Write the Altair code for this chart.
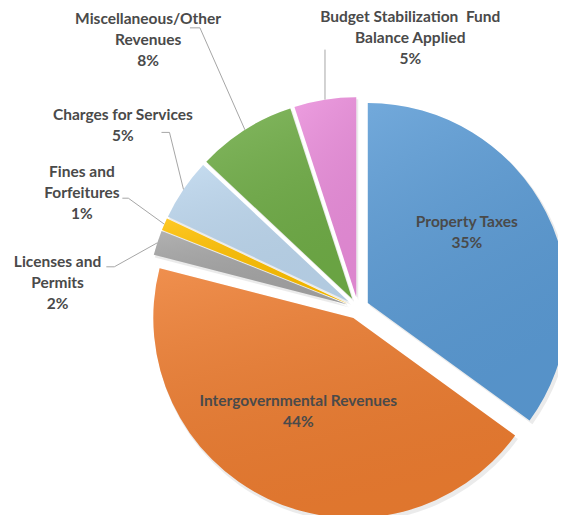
import altair as alt
import pandas as pd

# ---- data ----
categories = [
    "Property Taxes",
    "Intergovernmental Revenues",
    "Licenses and Permits",
    "Fines and Forfeitures",
    "Charges for Services",
    "Miscellaneous/Other Revenues",
    "Budget Stabilization Fund Balance Applied",
]
values = [35, 44, 2, 1, 5, 8, 5]
label_names = [
    "Property Taxes",
    "Intergovernmental Revenues",
    "Licenses and\nPermits",
    "Fines and\nForfeitures",
    "Charges for Services",
    "Miscellaneous/Other\nRevenues",
    "Budget Stabilization\u00a0 Fund\nBalance Applied",
]

# ---- style / layout ----
colors = ["#5B9BD5", "#ED7D31", "#A5A5A5", "#FFC000", "#BDD7EE", "#70AD47", "#EA8EDB"]
PAD_TOP = 6
CX, CY, R, EXPLODE = 350, 300 - PAD_TOP, 200, 11
label_dx = [99, -55, -290, -266, -226, -204, 54]
label_dy = [-81, 83, -43, -132, -187, -280, -280]
elbow_dx = [0, 0, -43, -36, -14, -45, 0]
elbow_dy = [0, 0, 24, -26, -57, -102, -50]
tick_dx = [0, 0, -8, -6, -8, -10, 0]
has_leader = [False, False, True, True, True, True, True]

df = pd.DataFrame({
    "category": categories,
    "value": values,
    "order": list(range(len(categories))),
    "label": [f"{n}\n{v}%" for n, v in zip(label_names, values)],
    "ldx": label_dx, "ldy": label_dy,
    "edx": elbow_dx, "edy": elbow_dy, "tdx": tick_dx,
    "leader": has_leader,
})
total = sum(values)

base = (
    alt.Chart(df)
    .transform_window(cum="sum(value)", sort=[alt.SortField("order")], frame=[None, 0])
    .transform_joinaggregate(total="sum(value)")
    .transform_calculate(
        start="datum.cum - datum.value",
        mid="(datum.cum - datum.value / 2) / datum.total * 2 * PI",
        ox=f"{CX} + {EXPLODE} * sin(datum.mid)",
        oy=f"{CY} - {EXPLODE} * cos(datum.mid)",
        px=f"{CX} + {EXPLODE + R} * sin(datum.mid)",
        py=f"{CY} - {EXPLODE + R} * cos(datum.mid)",
        ex="datum.px + datum.edx",
        ey="datum.py + datum.edy",
        tx="datum.ex + datum.tdx",
        lx="datum.ox + datum.ldx",
        ly="datum.oy + datum.ldy",
    )
)

theta_enc = dict(
    theta=alt.Theta("start:Q", scale=alt.Scale(domain=[0, total])),
    theta2=alt.Theta2("cum:Q"),
    x=alt.X("ox:Q", scale=None, axis=None),
    y=alt.Y("oy:Q", scale=None, axis=None),
)

shadow = base.mark_arc(radius=R + 1, fill="#808080", opacity=0.16, xOffset=2, yOffset=3).encode(**theta_enc)

slices = base.mark_arc(radius=R).encode(
    color=alt.Color("category:N", scale=alt.Scale(domain=categories, range=colors), legend=None),
    **theta_enc,
)

sheen = base.mark_arc(
    radius=R,
    fill={
        "gradient": "linear",
        "x1": 0, "y1": 0, "x2": 0.35, "y2": 1,
        "stops": [
            {"offset": 0, "color": "rgba(255,255,255,0.14)"},
            {"offset": 1, "color": "rgba(0,0,0,0.06)"},
        ],
    },
).encode(**theta_enc)

leaders = base.transform_filter("datum.leader").mark_rule(color="#A6A6A6", strokeWidth=1).encode(
    x=alt.X("px:Q", scale=None, axis=None),
    y=alt.Y("py:Q", scale=None, axis=None),
    x2="ex:Q",
    y2="ey:Q",
)

ticks = base.transform_filter("datum.leader && datum.tdx != 0").mark_rule(color="#A6A6A6", strokeWidth=1).encode(
    x=alt.X("ex:Q", scale=None, axis=None),
    y=alt.Y("ey:Q", scale=None, axis=None),
    x2="tx:Q",
    y2="ey:Q",
)

labels = base.mark_text(
    font="Lato", fontWeight="bold", fontSize=15.5, color="#4A4A4A",
    lineBreak="\n", lineHeight=21, align="center", baseline="middle",
).encode(
    x=alt.X("lx:Q", scale=None, axis=None),
    y=alt.Y("ly:Q", scale=None, axis=None),
    text="label:N",
)

chart = (
    alt.layer(shadow, slices, sheen, leaders, ticks, labels)
    .properties(
        width=550, height=507 - PAD_TOP,
        padding={"left": 0, "top": PAD_TOP, "right": 0, "bottom": 0},
        autosize=alt.AutoSizeParams(type="none"), background="white",
    )
    .configure_view(stroke=None)
)

chart.save("out.html", embed_options={"renderer": "svg", "actions": False})
